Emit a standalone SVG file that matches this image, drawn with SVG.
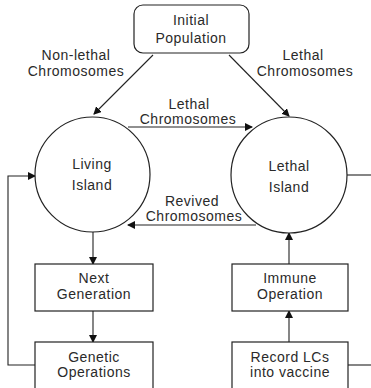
<svg xmlns="http://www.w3.org/2000/svg" width="371" height="388" viewBox="0 0 371 388">
<style>
.n{fill:#fff;stroke:#222;stroke-width:1.2}
.c{fill:none;stroke:#222;stroke-width:1.1}
text{font-family:"Liberation Sans",Arial,sans-serif;font-size:14px;letter-spacing:0.5px;fill:#2a2a2a;text-anchor:middle}
</style>
<defs>
<marker id="ah" markerWidth="8" markerHeight="8" refX="7" refY="4" orient="auto" markerUnits="userSpaceOnUse">
<path d="M0,0 L8,4 L0,8 z" fill="#111"/>
</marker>
</defs>
<rect width="371" height="388" fill="#fff"/>
<g id="connectors">
<line class="c" x1="153" y1="55" x2="94" y2="114" marker-end="url(#ah)"/>
<line class="c" x1="229" y1="55" x2="289" y2="116" marker-end="url(#ah)"/>
<line class="c" x1="128" y1="127" x2="252" y2="127" marker-end="url(#ah)"/>
<line class="c" x1="256" y1="225" x2="128" y2="225" marker-end="url(#ah)"/>
<line class="c" x1="93" y1="232" x2="93" y2="264" marker-end="url(#ah)"/>
<line class="c" x1="93" y1="311" x2="93" y2="342" marker-end="url(#ah)"/>
<line class="c" x1="289" y1="342" x2="289" y2="311" marker-end="url(#ah)"/>
<line class="c" x1="289" y1="264" x2="289" y2="233" marker-end="url(#ah)"/>
<polyline class="c" points="35,365 8,365 8,176 35,176" marker-end="url(#ah)"/>
<line class="c" x1="347" y1="175" x2="371" y2="175"/>
<line class="c" x1="371" y1="365" x2="340" y2="365" marker-end="url(#ah)"/>
<text x="76" y="60">Non-lethal</text>
<text x="76" y="76">Chromosomes</text>
<text x="303" y="60">Lethal</text>
<text x="305" y="76">Chromosomes</text>
<text x="189" y="109">Lethal</text>
<text x="188" y="124">Chromosomes</text>
<text x="192" y="206">Revived</text>
<text x="194" y="221">Chromosomes</text>
</g>
<g id="initial">
<rect class="n" x="134" y="5" width="115" height="48" rx="9"/>
<text x="191" y="25">Initial</text>
<text x="191" y="43">Population</text>
</g>
<g id="living">
<circle class="n" cx="92.5" cy="174.5" r="57.5"/>
<text x="92" y="169">Living</text>
<text x="92" y="190">Island</text>
</g>
<g id="lethal">
<circle class="n" cx="289" cy="175" r="58"/>
<text x="289" y="171">Lethal</text>
<text x="289" y="192">Island</text>
</g>
<g id="nextgen">
<rect class="n" x="35" y="264" width="118" height="47"/>
<text x="94" y="283">Next</text>
<text x="94" y="299">Generation</text>
</g>
<g id="genetic">
<rect class="n" x="35" y="342" width="118" height="60"/>
<text x="94" y="362">Genetic</text>
<text x="94" y="377">Operations</text>
</g>
<g id="immune">
<rect class="n" x="232" y="264" width="116" height="47"/>
<text x="290" y="283">Immune</text>
<text x="290" y="299">Operation</text>
</g>
<g id="record">
<rect class="n" x="232" y="342" width="116" height="60"/>
<text x="290" y="362">Record LCs</text>
<text x="290" y="377">into vaccine</text>
</g>
</svg>
